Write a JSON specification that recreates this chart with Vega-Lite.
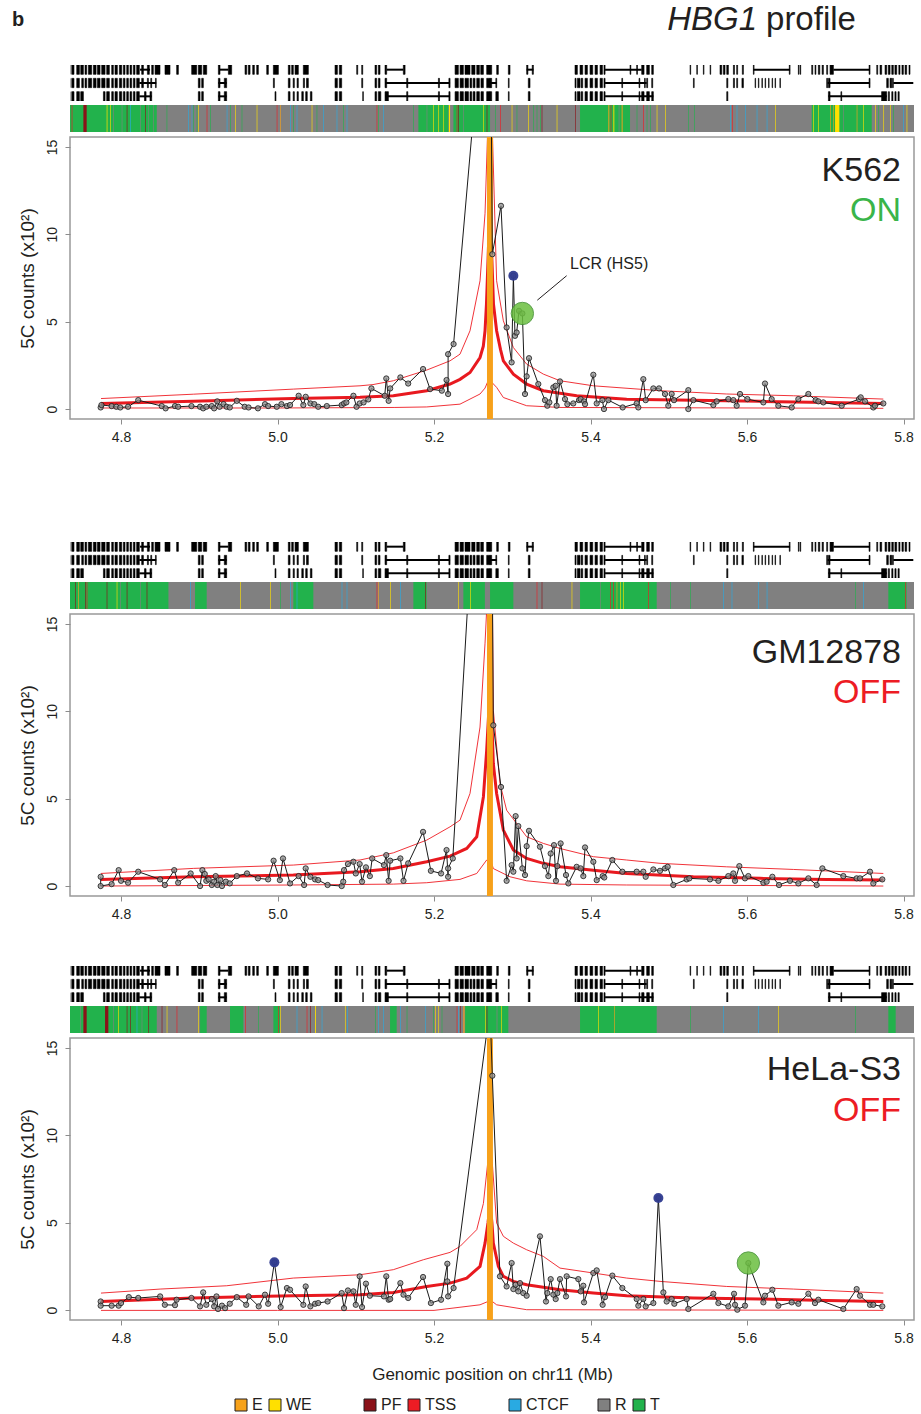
{
"$schema": "https://vega.github.io/schema/vega-lite/v6.json",
"padding": {"left": 12, "top": 0, "right": 0, "bottom": 0},
"background": "white",
"spacing": 4,
"config": {
  "font": "Liberation Sans",
  "view": {"stroke": "#999999", "strokeWidth": 1.5},
  "axis": {"labelFont": "Liberation Sans", "labelFontSize": 14, "labelColor": "#231f20", "titleFont": "Liberation Sans", "titleFontSize": 17, "titleFontWeight": "normal", "titleColor": "#231f20", "tickColor": "#8c8c8c", "tickSize": 5, "domain": false, "grid": false},
  "legend": {"layout": {"bottom": {"anchor": "middle"}}}
},
"datasets": {
"genes": [
{"r":1,"k":"x","s":4.7327,"e":4.7348},{"r":1,"k":"x","s":4.7370,"e":4.7399},{"r":1,"k":"x","s":4.7434,"e":4.7468},{"r":1,"k":"x","s":4.7485,"e":4.7519},{"r":1,"k":"x","s":4.7540,"e":4.7561},{"r":1,"k":"x","s":4.7583,"e":4.7625},{"r":1,"k":"x","s":4.7647,"e":4.7681},{"r":1,"k":"x","s":4.7698,"e":4.7732},{"r":1,"k":"x","s":4.7753,"e":4.7796},{"r":1,"k":"x","s":4.7817,"e":4.7851},{"r":1,"k":"x","s":4.7881,"e":4.7902},{"r":1,"k":"x","s":4.7923,"e":4.7953},{"r":1,"k":"x","s":4.7979,"e":4.8009},{"r":1,"k":"x","s":4.8030,"e":4.8051},{"r":1,"k":"x","s":4.8073,"e":4.8094},{"r":1,"k":"x","s":4.8115,"e":4.8136},{"r":1,"k":"x","s":4.8158,"e":4.8179},{"r":1,"k":"x","s":4.8200,"e":4.8234},{"r":1,"k":"x","s":4.8264,"e":4.8286},{"r":1,"k":"x","s":4.8337,"e":4.8362},{"r":1,"k":"x","s":4.8392,"e":4.8413},{"r":1,"k":"x","s":4.8435,"e":4.8498},{"r":1,"k":"x","s":4.8562,"e":4.8626},{"r":1,"k":"x","s":4.8711,"e":4.8733},{"r":1,"k":"x","s":4.8903,"e":4.8967},{"r":1,"k":"x","s":4.8988,"e":4.9031},{"r":1,"k":"x","s":4.9052,"e":4.9095},{"r":1,"k":"x","s":4.9244,"e":4.9265},{"r":1,"k":"x","s":4.9372,"e":4.9414},{"r":1,"k":"x","s":4.9585,"e":4.9606},{"r":1,"k":"x","s":4.9627,"e":4.9649},{"r":1,"k":"x","s":4.9683,"e":4.9704},{"r":1,"k":"x","s":4.9734,"e":4.9755},{"r":1,"k":"x","s":4.9862,"e":4.9883},{"r":1,"k":"x","s":4.9947,"e":5.0011},{"r":1,"k":"x","s":5.0138,"e":5.0160},{"r":1,"k":"x","s":5.0181,"e":5.0202},{"r":1,"k":"x","s":5.0224,"e":5.0266},{"r":1,"k":"x","s":5.0330,"e":5.0394},{"r":1,"k":"x","s":5.0735,"e":5.0765},{"r":1,"k":"x","s":5.0790,"e":5.0820},{"r":1,"k":"x","s":5.1012,"e":5.1025},{"r":1,"k":"x","s":5.1076,"e":5.1089},{"r":1,"k":"x","s":5.1246,"e":5.1267},{"r":1,"k":"x","s":5.1289,"e":5.1310},{"r":1,"k":"x","s":5.1374,"e":5.1395},{"r":1,"k":"x","s":5.1608,"e":5.1630},{"r":1,"k":"x","s":5.2269,"e":5.2311},{"r":1,"k":"x","s":5.2333,"e":5.2375},{"r":1,"k":"x","s":5.2396,"e":5.2460},{"r":1,"k":"x","s":5.2482,"e":5.2524},{"r":1,"k":"x","s":5.2546,"e":5.2580},{"r":1,"k":"x","s":5.2597,"e":5.2631},{"r":1,"k":"x","s":5.2673,"e":5.2716},
{"r":1,"k":"x","s":5.2716,"e":5.2737},{"r":1,"k":"x","s":5.2801,"e":5.2822},{"r":1,"k":"x","s":5.2950,"e":5.2971},{"r":1,"k":"x","s":5.3184,"e":5.3200},{"r":1,"k":"x","s":5.3255,"e":5.3270},{"r":1,"k":"x","s":5.3802,"e":5.3832},{"r":1,"k":"x","s":5.3866,"e":5.3900},{"r":1,"k":"x","s":5.3930,"e":5.3960},{"r":1,"k":"x","s":5.3994,"e":5.4028},{"r":1,"k":"x","s":5.4058,"e":5.4088},{"r":1,"k":"x","s":5.4122,"e":5.4152},{"r":1,"k":"x","s":5.4172,"e":5.4186},{"r":1,"k":"x","s":5.4505,"e":5.4515},{"r":1,"k":"x","s":5.4590,"e":5.4600},{"r":1,"k":"x","s":5.4654,"e":5.4684},{"r":1,"k":"x","s":5.4718,"e":5.4752},{"r":1,"k":"x","s":5.4782,"e":5.4803},{"r":1,"k":"x","s":5.5272,"e":5.5280},{"r":1,"k":"x","s":5.5358,"e":5.5366},{"r":1,"k":"x","s":5.5442,"e":5.5450},{"r":1,"k":"x","s":5.5528,"e":5.5536},{"r":1,"k":"x","s":5.5655,"e":5.5677},{"r":1,"k":"x","s":5.5698,"e":5.5719},{"r":1,"k":"x","s":5.5741,"e":5.5762},{"r":1,"k":"x","s":5.5826,"e":5.5840},{"r":1,"k":"x","s":5.5868,"e":5.5880},{"r":1,"k":"x","s":5.5940,"e":5.5954},{"r":1,"k":"x","s":5.6081,"e":5.6090},{"r":1,"k":"x","s":5.6540,"e":5.6550},{"r":1,"k":"x","s":5.6656,"e":5.6664},{"r":1,"k":"x","s":5.6678,"e":5.6686},{"r":1,"k":"x","s":5.6827,"e":5.6840},{"r":1,"k":"x","s":5.6869,"e":5.6880},{"r":1,"k":"x","s":5.6912,"e":5.6930},{"r":1,"k":"x","s":5.6960,"e":5.6976},{"r":1,"k":"x","s":5.7018,"e":5.7030},{"r":1,"k":"x","s":5.7061,"e":5.7104},{"r":1,"k":"x","s":5.7560,"e":5.7572},{"r":1,"k":"x","s":5.7658,"e":5.7670},{"r":1,"k":"x","s":5.7700,"e":5.7721},{"r":1,"k":"x","s":5.7764,"e":5.7785},{"r":1,"k":"x","s":5.7806,"e":5.7828},{"r":1,"k":"x","s":5.7850,"e":5.7870},{"r":1,"k":"x","s":5.7890,"e":5.7913},{"r":1,"k":"x","s":5.7940,"e":5.7955},{"r":1,"k":"x","s":5.7980,"e":5.7998},{"r":1,"k":"x","s":5.8020,"e":5.8040},{"r":1,"k":"x","s":5.8070,"e":5.8083},
{"r":1,"k":"l","s":4.8243,"e":4.8371},{"r":1,"k":"l","s":4.9265,"e":4.9372},{"r":1,"k":"l","s":5.1395,"e":5.1608},{"r":1,"k":"l","s":5.3184,"e":5.3270},{"r":1,"k":"l","s":5.4186,"e":5.4654},{"r":1,"k":"l","s":5.6081,"e":5.6550},{"r":1,"k":"l","s":5.7104,"e":5.7572},
{"r":2,"k":"x","s":4.7327,"e":4.7348},{"r":2,"k":"x","s":4.7370,"e":4.7399},{"r":2,"k":"x","s":4.7434,"e":4.7468},{"r":2,"k":"x","s":4.7498,"e":4.7519},{"r":2,"k":"x","s":4.7540,"e":4.7561},{"r":2,"k":"x","s":4.7583,"e":4.7625},{"r":2,"k":"x","s":4.7647,"e":4.7681},{"r":2,"k":"x","s":4.7698,"e":4.7732},{"r":2,"k":"x","s":4.7753,"e":4.7796},{"r":2,"k":"x","s":4.7817,"e":4.7851},{"r":2,"k":"x","s":4.7881,"e":4.7902},{"r":2,"k":"x","s":4.7923,"e":4.7953},{"r":2,"k":"x","s":4.7979,"e":4.8009},{"r":2,"k":"x","s":4.8030,"e":4.8051},{"r":2,"k":"x","s":4.8073,"e":4.8094},{"r":2,"k":"x","s":4.8115,"e":4.8136},{"r":2,"k":"x","s":4.8158,"e":4.8179},{"r":2,"k":"x","s":4.8200,"e":4.8234},{"r":2,"k":"x","s":4.8264,"e":4.8286},{"r":2,"k":"x","s":4.8337,"e":4.8350},{"r":2,"k":"x","s":4.8380,"e":4.8392},{"r":2,"k":"x","s":4.8440,"e":4.8450},{"r":2,"k":"x","s":4.8988,"e":4.9010},{"r":2,"k":"x","s":4.9031,"e":4.9052},{"r":2,"k":"x","s":4.9244,"e":4.9265},{"r":2,"k":"x","s":4.9320,"e":4.9350},{"r":2,"k":"x","s":4.9947,"e":4.9960},{"r":2,"k":"x","s":5.0138,"e":5.0160},{"r":2,"k":"x","s":5.0200,"e":5.0215},{"r":2,"k":"x","s":5.0250,"e":5.0266},{"r":2,"k":"x","s":5.0330,"e":5.0345},{"r":2,"k":"x","s":5.0370,"e":5.0394},{"r":2,"k":"x","s":5.0735,"e":5.0765},{"r":2,"k":"x","s":5.0790,"e":5.0820},{"r":2,"k":"x","s":5.1076,"e":5.1089},{"r":2,"k":"x","s":5.1246,"e":5.1267},{"r":2,"k":"x","s":5.1289,"e":5.1310},{"r":2,"k":"x","s":5.1374,"e":5.1395},{"r":2,"k":"x","s":5.1651,"e":5.1665},{"r":2,"k":"x","s":5.2056,"e":5.2070},{"r":2,"k":"x","s":5.2190,"e":5.2205},{"r":2,"k":"x","s":5.2269,"e":5.2311},{"r":2,"k":"x","s":5.2333,"e":5.2375},{"r":2,"k":"x","s":5.2396,"e":5.2440},{"r":2,"k":"x","s":5.2460,"e":5.2482},{"r":2,"k":"x","s":5.2500,"e":5.2524},{"r":2,"k":"x","s":5.2546,"e":5.2580},{"r":2,"k":"x","s":5.2600,"e":5.2631},{"r":2,"k":"x","s":5.2673,"e":5.2716},
{"r":2,"k":"x","s":5.2716,"e":5.2737},{"r":2,"k":"x","s":5.2790,"e":5.2801},{"r":2,"k":"x","s":5.2950,"e":5.2960},{"r":2,"k":"x","s":5.3205,"e":5.3227},{"r":2,"k":"x","s":5.3802,"e":5.3815},{"r":2,"k":"x","s":5.3832,"e":5.3866},{"r":2,"k":"x","s":5.3880,"e":5.3900},{"r":2,"k":"x","s":5.3930,"e":5.3960},{"r":2,"k":"x","s":5.3994,"e":5.4028},{"r":2,"k":"x","s":5.4058,"e":5.4088},{"r":2,"k":"x","s":5.4122,"e":5.4152},{"r":2,"k":"x","s":5.4172,"e":5.4186},{"r":2,"k":"x","s":5.4400,"e":5.4410},{"r":2,"k":"x","s":5.4620,"e":5.4630},{"r":2,"k":"x","s":5.4690,"e":5.4700},{"r":2,"k":"x","s":5.4718,"e":5.4730},{"r":2,"k":"x","s":5.4782,"e":5.4795},{"r":2,"k":"x","s":5.5315,"e":5.5325},{"r":2,"k":"x","s":5.5741,"e":5.5755},{"r":2,"k":"x","s":5.5826,"e":5.5840},{"r":2,"k":"x","s":5.5868,"e":5.5880},{"r":2,"k":"x","s":5.5935,"e":5.5954},{"r":2,"k":"x","s":5.6103,"e":5.6110},{"r":2,"k":"x","s":5.6145,"e":5.6152},{"r":2,"k":"x","s":5.6190,"e":5.6197},{"r":2,"k":"x","s":5.6231,"e":5.6238},{"r":2,"k":"x","s":5.6275,"e":5.6282},{"r":2,"k":"x","s":5.6320,"e":5.6327},{"r":2,"k":"x","s":5.6358,"e":5.6365},{"r":2,"k":"x","s":5.6420,"e":5.6427},{"r":2,"k":"x","s":5.7018,"e":5.7030},{"r":2,"k":"x","s":5.7040,"e":5.7061},{"r":2,"k":"x","s":5.7560,"e":5.7572},{"r":2,"k":"x","s":5.7785,"e":5.7806},{"r":2,"k":"x","s":5.7828,"e":5.7850},{"r":2,"k":"x","s":5.7860,"e":5.7870},
{"r":2,"k":"l","s":4.8234,"e":4.8450},{"r":2,"k":"l","s":4.9244,"e":4.9350},{"r":2,"k":"l","s":5.1374,"e":5.2205},{"r":2,"k":"l","s":5.2716,"e":5.2801},{"r":2,"k":"l","s":5.4186,"e":5.4718},{"r":2,"k":"l","s":5.7030,"e":5.7572},{"r":2,"k":"l","s":5.7870,"e":5.8125},
{"r":3,"k":"x","s":4.7327,"e":4.7348},{"r":3,"k":"x","s":4.7370,"e":4.7399},{"r":3,"k":"x","s":4.7434,"e":4.7468},{"r":3,"k":"x","s":4.7485,"e":4.7519},{"r":3,"k":"x","s":4.7775,"e":4.7796},{"r":3,"k":"x","s":4.7817,"e":4.7851},{"r":3,"k":"x","s":4.7881,"e":4.7902},{"r":3,"k":"x","s":4.7923,"e":4.7953},{"r":3,"k":"x","s":4.7979,"e":4.8009},{"r":3,"k":"x","s":4.8030,"e":4.8051},{"r":3,"k":"x","s":4.8073,"e":4.8094},{"r":3,"k":"x","s":4.8115,"e":4.8136},{"r":3,"k":"x","s":4.8158,"e":4.8179},{"r":3,"k":"x","s":4.8200,"e":4.8234},{"r":3,"k":"x","s":4.8300,"e":4.8320},{"r":3,"k":"x","s":4.8370,"e":4.8392},{"r":3,"k":"x","s":4.8988,"e":4.9010},{"r":3,"k":"x","s":4.9031,"e":4.9052},{"r":3,"k":"x","s":4.9244,"e":4.9265},{"r":3,"k":"x","s":4.9320,"e":4.9350},{"r":3,"k":"x","s":4.9968,"e":4.9980},{"r":3,"k":"x","s":5.0138,"e":5.0160},{"r":3,"k":"x","s":5.0200,"e":5.0215},{"r":3,"k":"x","s":5.0250,"e":5.0266},{"r":3,"k":"x","s":5.0310,"e":5.0330},{"r":3,"k":"x","s":5.0360,"e":5.0380},{"r":3,"k":"x","s":5.0420,"e":5.0440},{"r":3,"k":"x","s":5.0735,"e":5.0765},{"r":3,"k":"x","s":5.0790,"e":5.0820},{"r":3,"k":"x","s":5.1089,"e":5.1097},{"r":3,"k":"x","s":5.1246,"e":5.1267},{"r":3,"k":"x","s":5.1289,"e":5.1320},{"r":3,"k":"x","s":5.1374,"e":5.1417},{"r":3,"k":"x","s":5.1651,"e":5.1665},{"r":3,"k":"x","s":5.2056,"e":5.2070},{"r":3,"k":"x","s":5.2190,"e":5.2205},{"r":3,"k":"x","s":5.2269,"e":5.2311},{"r":3,"k":"x","s":5.2333,"e":5.2375},{"r":3,"k":"x","s":5.2396,"e":5.2440},{"r":3,"k":"x","s":5.2460,"e":5.2482},{"r":3,"k":"x","s":5.2500,"e":5.2524},{"r":3,"k":"x","s":5.2546,"e":5.2580},{"r":3,"k":"x","s":5.2600,"e":5.2631},{"r":3,"k":"x","s":5.2673,"e":5.2716},
{"r":3,"k":"x","s":5.2716,"e":5.2737},{"r":3,"k":"x","s":5.2790,"e":5.2822},{"r":3,"k":"x","s":5.2950,"e":5.2960},{"r":3,"k":"x","s":5.3205,"e":5.3227},{"r":3,"k":"x","s":5.3802,"e":5.3815},{"r":3,"k":"x","s":5.3832,"e":5.3866},{"r":3,"k":"x","s":5.3880,"e":5.3900},{"r":3,"k":"x","s":5.3930,"e":5.3960},{"r":3,"k":"x","s":5.3994,"e":5.4028},{"r":3,"k":"x","s":5.4058,"e":5.4088},{"r":3,"k":"x","s":5.4122,"e":5.4152},{"r":3,"k":"x","s":5.4172,"e":5.4186},{"r":3,"k":"x","s":5.4400,"e":5.4410},{"r":3,"k":"x","s":5.4620,"e":5.4630},{"r":3,"k":"x","s":5.4654,"e":5.4684},{"r":3,"k":"x","s":5.4718,"e":5.4752},{"r":3,"k":"x","s":5.4782,"e":5.4803},{"r":3,"k":"x","s":5.5741,"e":5.5755},{"r":3,"k":"x","s":5.7040,"e":5.7061},{"r":3,"k":"x","s":5.7200,"e":5.7210},{"r":3,"k":"x","s":5.7720,"e":5.7785},{"r":3,"k":"x","s":5.7806,"e":5.7820},{"r":3,"k":"x","s":5.7850,"e":5.7865},{"r":3,"k":"x","s":5.7890,"e":5.7905},{"r":3,"k":"x","s":5.7930,"e":5.7945},
{"r":3,"k":"l","s":4.8234,"e":4.8392},{"r":3,"k":"l","s":4.9244,"e":4.9350},{"r":3,"k":"l","s":5.1374,"e":5.2205},{"r":3,"k":"l","s":5.4186,"e":5.4803},{"r":3,"k":"l","s":5.7040,"e":5.7785}
],
"cb1": [
{"s":4.7348,"e":5.8134,"st":"R"},{"s":4.7327,"e":4.8457,"st":"T"},{"s":4.7519,"e":4.7561,"st":"PF"},{"s":4.7370,"e":4.7378,"st":"TSS"},{"s":4.7817,"e":4.7826,"st":"WE"},{"s":4.7860,"e":4.7868,"st":"WE"},{"s":4.7902,"e":4.7910,"st":"R"},{"s":4.8009,"e":4.8017,"st":"R"},{"s":4.8073,"e":4.8081,"st":"PF"},{"s":4.8115,"e":4.8123,"st":"CTCF"},{"s":4.8243,"e":4.8251,"st":"R"},{"s":4.8307,"e":4.8315,"st":"PF"},{"s":4.8350,"e":4.8358,"st":"R"},{"s":4.8413,"e":4.8421,"st":"R"},
{"s":4.8583,"e":4.8591,"st":"T"},{"s":4.8861,"e":4.8869,"st":"CTCF"},{"s":4.8903,"e":4.8911,"st":"CTCF"},{"s":4.8925,"e":4.8933,"st":"T"},{"s":4.8967,"e":4.8975,"st":"T"},{"s":4.8988,"e":4.8996,"st":"WE"},{"s":4.9095,"e":4.9103,"st":"TSS"},{"s":4.9138,"e":4.9146,"st":"T"},{"s":4.9351,"e":4.9359,"st":"CTCF"},{"s":4.9393,"e":4.9401,"st":"T"},{"s":4.9457,"e":4.9465,"st":"WE"},{"s":4.9542,"e":4.9550,"st":"T"},{"s":4.9734,"e":4.9742,"st":"WE"},{"s":4.9990,"e":4.9998,"st":"TSS"},{"s":5.0032,"e":5.0040,"st":"E"},{"s":5.0160,"e":5.0168,"st":"CTCF"},{"s":5.0202,"e":5.0210,"st":"T"},{"s":5.0245,"e":5.0253,"st":"CTCF"},{"s":5.0437,"e":5.0445,"st":"WE"},{"s":5.0500,"e":5.0508,"st":"T"},{"s":5.0586,"e":5.0594,"st":"CTCF"},{"s":5.0756,"e":5.0764,"st":"CTCF"},{"s":5.0841,"e":5.0849,"st":"T"},{"s":5.0884,"e":5.0892,"st":"CTCF"},{"s":5.1267,"e":5.1275,"st":"TSS"},{"s":5.1289,"e":5.1297,"st":"T"},{"s":5.1353,"e":5.1361,"st":"CTCF"},{"s":5.1736,"e":5.1744,"st":"T"},
{"s":5.1800,"e":5.2184,"st":"T"},{"s":5.1906,"e":5.1914,"st":"R"},{"s":5.1991,"e":5.1999,"st":"WE"},{"s":5.2056,"e":5.2064,"st":"WE"},{"s":5.2120,"e":5.2128,"st":"WE"},{"s":5.2190,"e":5.2205,"st":"WE"},
{"s":5.2248,"e":5.2716,"st":"T"},{"s":5.2290,"e":5.2298,"st":"TSS"},{"s":5.2311,"e":5.2319,"st":"PF"},{"s":5.2375,"e":5.2383,"st":"R"},{"s":5.2631,"e":5.2639,"st":"WE"},{"s":5.2673,"e":5.2681,"st":"PF"},
{"s":5.2780,"e":5.2788,"st":"T"},{"s":5.2844,"e":5.2852,"st":"TSS"},{"s":5.2993,"e":5.3001,"st":"WE"},{"s":5.3056,"e":5.3064,"st":"T"},{"s":5.3206,"e":5.3214,"st":"WE"},{"s":5.3270,"e":5.3278,"st":"T"},{"s":5.3312,"e":5.3320,"st":"T"},{"s":5.3355,"e":5.3363,"st":"T"},{"s":5.3376,"e":5.3384,"st":"PF"},{"s":5.3568,"e":5.3576,"st":"WE"},{"s":5.3802,"e":5.3810,"st":"PF"},
{"s":5.3866,"e":5.4505,"st":"T"},{"s":5.4228,"e":5.4240,"st":"E"},{"s":5.4258,"e":5.4266,"st":"TSS"},{"s":5.4292,"e":5.4304,"st":"WE"},{"s":5.4360,"e":5.4370,"st":"R"},{"s":5.4398,"e":5.4410,"st":"E"},
{"s":5.4590,"e":5.4598,"st":"T"},{"s":5.4675,"e":5.4683,"st":"TSS"},{"s":5.4718,"e":5.4726,"st":"T"},{"s":5.4760,"e":5.4768,"st":"T"},{"s":5.4846,"e":5.4854,"st":"WE"},{"s":5.4952,"e":5.4960,"st":"WE"},{"s":5.5251,"e":5.5259,"st":"T"},{"s":5.5323,"e":5.5331,"st":"T"},{"s":5.5783,"e":5.5791,"st":"CTCF"},{"s":5.5813,"e":5.5821,"st":"TSS"},{"s":5.5868,"e":5.5876,"st":"CTCF"},{"s":5.5975,"e":5.5983,"st":"CTCF"},{"s":5.6124,"e":5.6132,"st":"CTCF"},{"s":5.6252,"e":5.6260,"st":"CTCF"},{"s":5.6358,"e":5.6366,"st":"WE"},
{"s":5.6827,"e":5.7594,"st":"T"},{"s":5.6848,"e":5.6856,"st":"WE"},{"s":5.6912,"e":5.6920,"st":"WE"},{"s":5.7061,"e":5.7069,"st":"E"},{"s":5.7104,"e":5.7112,"st":"E"},{"s":5.7125,"e":5.7180,"st":"WE"},{"s":5.7231,"e":5.7239,"st":"R"},{"s":5.7402,"e":5.7410,"st":"E"},{"s":5.7487,"e":5.7495,"st":"WE"},
{"s":5.7636,"e":5.7644,"st":"WE"},{"s":5.7679,"e":5.7687,"st":"T"},{"s":5.7743,"e":5.7751,"st":"WE"},{"s":5.7828,"e":5.7836,"st":"WE"},{"s":5.7870,"e":5.7878,"st":"T"},{"s":5.7998,"e":5.8006,"st":"CTCF"},{"s":5.8040,"e":5.8048,"st":"WE"}
],
"cb2": [
{"s":4.7348,"e":5.8134,"st":"R"},{"s":4.7327,"e":4.8606,"st":"T"},{"s":4.7412,"e":4.7420,"st":"PF"},{"s":4.7455,"e":4.7463,"st":"E"},{"s":4.7540,"e":4.7548,"st":"PF"},{"s":4.7561,"e":4.7569,"st":"TSS"},{"s":4.7817,"e":4.7825,"st":"PF"},{"s":4.7945,"e":4.7953,"st":"WE"},{"s":4.7987,"e":4.7995,"st":"R"},{"s":4.8073,"e":4.8081,"st":"PF"},{"s":4.8243,"e":4.8251,"st":"R"},{"s":4.8328,"e":4.8336,"st":"PF"},
{"s":4.8882,"e":4.8890,"st":"CTCF"},{"s":4.8946,"e":4.9095,"st":"T"},{"s":4.9521,"e":4.9529,"st":"WE"},{"s":4.9904,"e":4.9912,"st":"WE"},{"s":5.0032,"e":5.0040,"st":"T"},{"s":5.0160,"e":5.0168,"st":"CTCF"},{"s":5.0202,"e":5.0458,"st":"T"},{"s":5.0245,"e":5.0253,"st":"CTCF"},{"s":5.0820,"e":5.0828,"st":"CTCF"},{"s":5.0884,"e":5.0892,"st":"CTCF"},{"s":5.1267,"e":5.1275,"st":"TSS"},{"s":5.1289,"e":5.1297,"st":"E"},{"s":5.1438,"e":5.1446,"st":"WE"},{"s":5.1566,"e":5.1574,"st":"CTCF"},{"s":5.1736,"e":5.1906,"st":"T"},{"s":5.1885,"e":5.1893,"st":"PF"},{"s":5.2311,"e":5.2319,"st":"WE"},
{"s":5.2375,"e":5.2650,"st":"T"},{"s":5.2460,"e":5.2468,"st":"WE"},{"s":5.2716,"e":5.3014,"st":"T"},
{"s":5.3312,"e":5.3320,"st":"TSS"},{"s":5.3376,"e":5.3384,"st":"PF"},{"s":5.3759,"e":5.3767,"st":"WE"},
{"s":5.3866,"e":5.4846,"st":"T"},{"s":5.4121,"e":5.4129,"st":"R"},{"s":5.4249,"e":5.4257,"st":"TSS"},{"s":5.4292,"e":5.4300,"st":"TSS"},{"s":5.4334,"e":5.4342,"st":"E"},{"s":5.4377,"e":5.4385,"st":"WE"},{"s":5.4420,"e":5.4428,"st":"WE"},{"s":5.4739,"e":5.4747,"st":"TSS"},
{"s":5.5016,"e":5.5024,"st":"T"},{"s":5.5272,"e":5.5280,"st":"T"},{"s":5.5698,"e":5.5706,"st":"CTCF"},{"s":5.5804,"e":5.5812,"st":"CTCF"},{"s":5.6145,"e":5.6153,"st":"CTCF"},{"s":5.6252,"e":5.6260,"st":"CTCF"},{"s":5.7381,"e":5.7389,"st":"T"},{"s":5.7487,"e":5.7495,"st":"CTCF"},{"s":5.7806,"e":5.8040,"st":"T"},{"s":5.8019,"e":5.8027,"st":"TSS"}
],
"cb3": [
{"s":4.7348,"e":5.8134,"st":"R"},{"s":4.7327,"e":4.8457,"st":"T"},{"s":4.7476,"e":4.7484,"st":"R"},{"s":4.7519,"e":4.7561,"st":"PF"},{"s":4.7796,"e":4.7838,"st":"PF"},{"s":4.7902,"e":4.7910,"st":"R"},{"s":4.7966,"e":4.7974,"st":"WE"},{"s":4.8073,"e":4.8081,"st":"PF"},{"s":4.8115,"e":4.8123,"st":"PF"},{"s":4.8200,"e":4.8208,"st":"CTCF"},{"s":4.8264,"e":4.8272,"st":"R"},{"s":4.8350,"e":4.8358,"st":"PF"},
{"s":4.8520,"e":4.8528,"st":"PF"},{"s":4.8584,"e":4.8592,"st":"WE"},{"s":4.8711,"e":4.8719,"st":"TSS"},{"s":4.8988,"e":4.8996,"st":"WE"},{"s":4.9010,"e":4.9095,"st":"T"},{"s":4.9393,"e":4.9564,"st":"T"},{"s":4.9585,"e":4.9593,"st":"TSS"},{"s":4.9755,"e":4.9763,"st":"T"},{"s":4.9947,"e":5.0032,"st":"T"},{"s":5.0011,"e":5.0019,"st":"TSS"},{"s":5.0032,"e":5.0040,"st":"WE"},{"s":5.0245,"e":5.0253,"st":"CTCF"},{"s":5.0373,"e":5.0381,"st":"TSS"},{"s":5.0415,"e":5.0423,"st":"PF"},{"s":5.0479,"e":5.0490,"st":"WE"},{"s":5.0565,"e":5.0573,"st":"CTCF"},{"s":5.0862,"e":5.0870,"st":"WE"},{"s":5.0892,"e":5.0900,"st":"CTCF"},{"s":5.1246,"e":5.1254,"st":"T"},{"s":5.1289,"e":5.1297,"st":"CTCF"},{"s":5.1353,"e":5.1361,"st":"CTCF"},{"s":5.1438,"e":5.1523,"st":"T"},{"s":5.1566,"e":5.1574,"st":"CTCF"},{"s":5.1651,"e":5.1659,"st":"T"},{"s":5.1885,"e":5.1893,"st":"CTCF"},{"s":5.1991,"e":5.1999,"st":"T"},{"s":5.2013,"e":5.2021,"st":"WE"},{"s":5.2056,"e":5.2064,"st":"WE"},{"s":5.2098,"e":5.2106,"st":"T"},{"s":5.2290,"e":5.2298,"st":"TSS"},{"s":5.2311,"e":5.2319,"st":"CTCF"},{"s":5.2333,"e":5.2341,"st":"PF"},{"s":5.2375,"e":5.2390,"st":"E"},
{"s":5.2397,"e":5.2950,"st":"T"},{"s":5.2652,"e":5.2660,"st":"WE"},{"s":5.2673,"e":5.2681,"st":"PF"},{"s":5.2800,"e":5.2810,"st":"R"},{"s":5.2860,"e":5.2868,"st":"WE"},
{"s":5.3866,"e":5.4846,"st":"T"},{"s":5.4100,"e":5.4108,"st":"WE"},{"s":5.4300,"e":5.4308,"st":"E"},
{"s":5.5272,"e":5.5280,"st":"T"},{"s":5.5698,"e":5.5706,"st":"CTCF"},{"s":5.6145,"e":5.6153,"st":"CTCF"},{"s":5.6400,"e":5.6408,"st":"WE"},{"s":5.7381,"e":5.7389,"st":"T"},{"s":5.7806,"e":5.7900,"st":"T"}
],
"r1": [
{"s":"exp","x":4.7744,"y":0.32},{"s":"exp","x":4.8924,"y":0.44},{"s":"exp","x":5.0202,"y":0.61},{"s":"exp","x":5.1054,"y":0.67},{"s":"exp","x":5.148,"y":0.76},{"s":"exp","x":5.1907,"y":1.05},{"s":"exp","x":5.2205,"y":1.43},{"s":"exp","x":5.2332,"y":1.7},{"s":"exp","x":5.246,"y":2.09},{"s":"exp","x":5.2588,"y":2.95},{"s":"exp","x":5.263,"y":3.6},{"s":"exp","x":5.2652,"y":4.48},{"s":"exp","x":5.267,"y":6.0},{"s":"exp","x":5.269,"y":8.5},{"s":"exp","x":5.2716,"y":12},{"s":"exp","x":5.274,"y":8.5},{"s":"exp","x":5.276,"y":6.0},{"s":"exp","x":5.28,"y":4.48},{"s":"exp","x":5.285,"y":3.4},{"s":"exp","x":5.2886,"y":2.76},{"s":"exp","x":5.3014,"y":2.0},{"s":"exp","x":5.3184,"y":1.43},{"s":"exp","x":5.3397,"y":1.05},{"s":"exp","x":5.3823,"y":0.76},{"s":"exp","x":5.4462,"y":0.56},{"s":"exp","x":5.5314,"y":0.51},{"s":"exp","x":5.6166,"y":0.44},{"s":"exp","x":5.7018,"y":0.38},{"s":"exp","x":5.7742,"y":0.32},
{"s":"hi","x":4.7744,"y":0.6},{"s":"hi","x":4.8924,"y":0.85},{"s":"hi","x":5.0202,"y":1.14},{"s":"hi","x":5.1054,"y":1.33},{"s":"hi","x":5.122,"y":1.4},{"s":"hi","x":5.148,"y":1.62},{"s":"hi","x":5.1907,"y":2.23},{"s":"hi","x":5.2205,"y":2.76},{"s":"hi","x":5.2332,"y":3.14},{"s":"hi","x":5.246,"y":4.48},{"s":"hi","x":5.2588,"y":7.34},{"s":"hi","x":5.2652,"y":11.2},{"s":"hi","x":5.2686,"y":16},{"s":"hi","x":5.2716,"y":20},{"s":"hi","x":5.2745,"y":16},{"s":"hi","x":5.28,"y":7.34},{"s":"hi","x":5.2886,"y":5.05},{"s":"hi","x":5.3014,"y":3.52},{"s":"hi","x":5.3184,"y":2.57},{"s":"hi","x":5.3397,"y":2.0},{"s":"hi","x":5.361,"y":1.62},{"s":"hi","x":5.4036,"y":1.33},{"s":"hi","x":5.4888,"y":1.05},{"s":"hi","x":5.574,"y":0.86},{"s":"hi","x":5.6592,"y":0.76},{"s":"hi","x":5.7742,"y":0.57},
{"s":"lo","x":4.7744,"y":0.06},{"s":"lo","x":5.0,"y":0.06},{"s":"lo","x":5.15,"y":0.09},{"s":"lo","x":5.1907,"y":0.12},{"s":"lo","x":5.2332,"y":0.28},{"s":"lo","x":5.2588,"y":0.86},{"s":"lo","x":5.2652,"y":1.2},{"s":"lo","x":5.269,"y":1.6},{"s":"lo","x":5.2716,"y":1.7},{"s":"lo","x":5.2745,"y":1.5},{"s":"lo","x":5.28,"y":1.24},{"s":"lo","x":5.2886,"y":0.66},{"s":"lo","x":5.3184,"y":0.19},{"s":"lo","x":5.361,"y":0.09},{"s":"lo","x":5.7742,"y":0.04}
],
"r2": [
{"s":"exp","x":4.7744,"y":0.38},{"s":"exp","x":4.8924,"y":0.53},{"s":"exp","x":5.0202,"y":0.63},{"s":"exp","x":5.1054,"y":0.82},{"s":"exp","x":5.148,"y":1.01},{"s":"exp","x":5.1907,"y":1.39},{"s":"exp","x":5.2205,"y":1.71},{"s":"exp","x":5.2418,"y":2.15},{"s":"exp","x":5.2546,"y":2.82},{"s":"exp","x":5.2631,"y":5.1},{"s":"exp","x":5.2673,"y":7.77},{"s":"exp","x":5.27,"y":10},{"s":"exp","x":5.2716,"y":12},{"s":"exp","x":5.2735,"y":10},{"s":"exp","x":5.2758,"y":7.0},{"s":"exp","x":5.28,"y":5.3},{"s":"exp","x":5.2886,"y":3.2},{"s":"exp","x":5.3014,"y":2.06},{"s":"exp","x":5.3184,"y":1.58},{"s":"exp","x":5.3397,"y":1.3},{"s":"exp","x":5.361,"y":1.1},{"s":"exp","x":5.4036,"y":0.91},{"s":"exp","x":5.4462,"y":0.72},{"s":"exp","x":5.5314,"y":0.53},{"s":"exp","x":5.6166,"y":0.44},{"s":"exp","x":5.7018,"y":0.38},{"s":"exp","x":5.7742,"y":0.34},
{"s":"hi","x":4.7744,"y":0.72},{"s":"hi","x":4.8924,"y":1.01},{"s":"hi","x":5.0202,"y":1.2},{"s":"hi","x":5.1054,"y":1.49},{"s":"hi","x":5.148,"y":1.9},{"s":"hi","x":5.1907,"y":2.63},{"s":"hi","x":5.2205,"y":3.39},{"s":"hi","x":5.2332,"y":3.77},{"s":"hi","x":5.246,"y":5.3},{"s":"hi","x":5.2588,"y":9.1},{"s":"hi","x":5.2652,"y":13.9},{"s":"hi","x":5.2686,"y":17},{"s":"hi","x":5.2716,"y":20},{"s":"hi","x":5.2745,"y":17},{"s":"hi","x":5.2758,"y":10.06},{"s":"hi","x":5.2843,"y":5.87},{"s":"hi","x":5.2928,"y":4.34},{"s":"hi","x":5.3056,"y":3.58},{"s":"hi","x":5.3184,"y":2.82},{"s":"hi","x":5.3397,"y":2.44},{"s":"hi","x":5.361,"y":2.15},{"s":"hi","x":5.4036,"y":1.68},{"s":"hi","x":5.4462,"y":1.49},{"s":"hi","x":5.4888,"y":1.3},{"s":"hi","x":5.574,"y":1.1},{"s":"hi","x":5.6592,"y":0.95},{"s":"hi","x":5.7742,"y":0.72},
{"s":"lo","x":4.7744,"y":0.0},{"s":"lo","x":5.0202,"y":0.06},{"s":"lo","x":5.148,"y":0.11},{"s":"lo","x":5.1907,"y":0.19},{"s":"lo","x":5.2332,"y":0.38},{"s":"lo","x":5.2546,"y":0.72},{"s":"lo","x":5.2673,"y":1.49},{"s":"lo","x":5.2716,"y":1.6},{"s":"lo","x":5.2758,"y":1.0},{"s":"lo","x":5.2971,"y":0.53},{"s":"lo","x":5.3184,"y":0.3},{"s":"lo","x":5.361,"y":0.11},{"s":"lo","x":5.4462,"y":0.06},{"s":"lo","x":5.7742,"y":0.0}
],
"r3": [
{"s":"exp","x":4.7744,"y":0.49},{"s":"exp","x":4.8924,"y":0.69},{"s":"exp","x":5.0202,"y":0.82},{"s":"exp","x":5.1054,"y":0.88},{"s":"exp","x":5.148,"y":1.01},{"s":"exp","x":5.1907,"y":1.35},{"s":"exp","x":5.2205,"y":1.54},{"s":"exp","x":5.2418,"y":1.83},{"s":"exp","x":5.2588,"y":2.5},{"s":"exp","x":5.2652,"y":3.83},{"s":"exp","x":5.269,"y":5.0},{"s":"exp","x":5.2716,"y":6.0},{"s":"exp","x":5.274,"y":5.0},{"s":"exp","x":5.2758,"y":3.83},{"s":"exp","x":5.2822,"y":2.5},{"s":"exp","x":5.2886,"y":1.93},{"s":"exp","x":5.3014,"y":1.64},{"s":"exp","x":5.3184,"y":1.45},{"s":"exp","x":5.361,"y":1.16},{"s":"exp","x":5.4036,"y":0.97},{"s":"exp","x":5.4462,"y":0.82},{"s":"exp","x":5.5314,"y":0.69},{"s":"exp","x":5.6166,"y":0.63},{"s":"exp","x":5.7018,"y":0.55},{"s":"exp","x":5.7742,"y":0.49},
{"s":"hi","x":4.7744,"y":0.97},{"s":"hi","x":4.85,"y":1.2},{"s":"hi","x":4.935,"y":1.39},{"s":"hi","x":5.0202,"y":1.83},{"s":"hi","x":5.1054,"y":2.02},{"s":"hi","x":5.148,"y":2.31},{"s":"hi","x":5.1864,"y":2.88},{"s":"hi","x":5.2205,"y":3.3},{"s":"hi","x":5.2332,"y":3.64},{"s":"hi","x":5.2546,"y":4.6},{"s":"hi","x":5.2631,"y":6.1},{"s":"hi","x":5.2686,"y":8.41},{"s":"hi","x":5.2716,"y":10},{"s":"hi","x":5.2745,"y":8.4},{"s":"hi","x":5.28,"y":4.98},{"s":"hi","x":5.2886,"y":4.22},{"s":"hi","x":5.3014,"y":3.83},{"s":"hi","x":5.3184,"y":3.45},{"s":"hi","x":5.3397,"y":3.07},{"s":"hi","x":5.361,"y":2.4},{"s":"hi","x":5.4036,"y":2.12},{"s":"hi","x":5.4462,"y":1.83},{"s":"hi","x":5.4888,"y":1.64},{"s":"hi","x":5.574,"y":1.35},{"s":"hi","x":5.6592,"y":1.2},{"s":"hi","x":5.7742,"y":0.97},
{"s":"lo","x":4.7744,"y":-0.02},{"s":"lo","x":5.0,"y":-0.02},{"s":"lo","x":5.2,"y":-0.02},{"s":"lo","x":5.2588,"y":0.3},{"s":"lo","x":5.269,"y":0.49},{"s":"lo","x":5.2716,"y":0.55},{"s":"lo","x":5.2745,"y":0.49},{"s":"lo","x":5.28,"y":0.3},{"s":"lo","x":5.3184,"y":0.02},{"s":"lo","x":5.7742,"y":-0.02}
],
"k1": [
{"i":1,"x":4.774,"y":0.09},{"i":2,"x":4.775,"y":0.23},{"i":3,"x":4.788,"y":0.17},{"i":4,"x":4.794,"y":0.13},{"i":5,"x":4.799,"y":0.09},{"i":6,"x":4.809,"y":0.13},{"i":7,"x":4.822,"y":0.51},{"i":8,"x":4.852,"y":0.17},{"i":9,"x":4.857,"y":0.04},{"i":10,"x":4.869,"y":0.17},{"i":11,"x":4.873,"y":0.13},{"i":12,"x":4.890,"y":0.17},{"i":13,"x":4.901,"y":0.13},{"i":14,"x":4.905,"y":0.04},{"i":15,"x":4.909,"y":0.13},{"i":16,"x":4.916,"y":0.17},{"i":17,"x":4.919,"y":0.04},{"i":18,"x":4.923,"y":0.44},{"i":19,"x":4.926,"y":0.13},{"i":20,"x":4.931,"y":0.28},{"i":21,"x":4.935,"y":0.13},{"i":22,"x":4.939,"y":0.09},{"i":23,"x":4.948,"y":0.47},{"i":24,"x":4.958,"y":0.13},{"i":25,"x":4.963,"y":0.09},{"i":26,"x":4.975,"y":0.04},{"i":27,"x":4.984,"y":0.28},{"i":28,"x":4.988,"y":0.17},{"i":29,"x":4.999,"y":0.13},{"i":30,"x":5.005,"y":0.28},{"i":31,"x":5.012,"y":0.17},{"i":32,"x":5.016,"y":0.23},{"i":33,"x":5.027,"y":0.76},{"i":34,"x":5.033,"y":0.23},{"i":35,"x":5.036,"y":0.70},{"i":36,"x":5.042,"y":0.32},{"i":37,"x":5.047,"y":0.28},{"i":38,"x":5.052,"y":0.13},{"i":39,"x":5.063,"y":0.17},{"i":40,"x":5.082,"y":0.23},{"i":41,"x":5.085,"y":0.32},{"i":42,"x":5.088,"y":0.38},{"i":43,"x":5.097,"y":0.76},{"i":44,"x":5.101,"y":0.13},{"i":45,"x":5.105,"y":0.32},{"i":46,"x":5.110,"y":0.38},{"i":47,"x":5.116,"y":0.55},{"i":48,"x":5.120,"y":1.18},{"i":49,"x":5.137,"y":0.76},{"i":50,"x":5.139,"y":1.75},{"i":51,"x":5.142,"y":0.47},{"i":52,"x":5.144,"y":1.18},{"i":53,"x":5.157,"y":1.81},{"i":54,"x":5.167,"y":1.46},{"i":55,"x":5.186,"y":2.29},{"i":56,"x":5.195,"y":1.14},{"i":57,"x":5.210,"y":1.05},{"i":58,"x":5.216,"y":1.66},{"i":59,"x":5.218,"y":0.86},{"i":60,"x":5.218,"y":3.14},{"i":61,"x":5.225,"y":3.72},{"i":62,"x":5.2715,"y":27.7},{"i":63,"x":5.2745,"y":8.86},{"i":64,"x":5.2856,"y":11.63},{"i":65,"x":5.2928,"y":4.67},{"i":66,"x":5.2992,"y":2.67},{"i":67,"x":5.3014,"y":7.63},{"i":68,"x":5.3035,"y":4.19},{"i":69,"x":5.3056,"y":4.38},{"i":70,"x":5.3086,"y":5.62},{"i":71,"x":5.3129,"y":5.47},{"i":72,"x":5.3163,"y":0.86},{"i":73,"x":5.3184,"y":1.87},{"i":74,"x":5.3214,"y":2.91},{"i":75,"x":5.3333,"y":1.43},{"i":76,"x":5.3418,"y":0.51},{"i":77,"x":5.3448,"y":0.19},{"i":78,"x":5.3474,"y":0.38},{"i":79,"x":5.3525,"y":1.24},{"i":80,"x":5.3555,"y":1.33},{"i":81,"x":5.3567,"y":0.19},{"i":82,"x":5.3610,"y":1.58},{"i":83,"x":5.3674,"y":0.57},{"i":84,"x":5.3704,"y":0.28},{"i":85,"x":5.3780,"y":0.32},{"i":86,"x":5.3853,"y":0.51},{"i":87,"x":5.3874,"y":0.57},{"i":88,"x":5.3917,"y":0.44},{"i":89,"x":5.3930,"y":0.28},{"i":90,"x":5.4036,"y":1.96},{"i":91,"x":5.4079,"y":0.32},{"i":92,"x":5.4151,"y":0.51},{"i":93,"x":5.4172,"y":0.00},{"i":94,"x":5.4228,"y":0.51},{"i":95,"x":5.4411,"y":0.09},{"i":96,"x":5.4590,"y":0.32},{"i":97,"x":5.4611,"y":0.09},{"i":98,"x":5.4675,"y":1.71},{"i":99,"x":5.4705,"y":0.51},{"i":100,"x":5.4803,"y":1.18},{"i":101,"x":5.4875,"y":1.18},{"i":102,"x":5.4952,"y":0.86},{"i":103,"x":5.4994,"y":0.19},{"i":104,"x":5.5037,"y":0.86},{"i":105,"x":5.5067,"y":0.51},{"i":106,"x":5.5250,"y":1.08},{"i":107,"x":5.5250,"y":0.00},{"i":108,"x":5.5314,"y":0.51},{"i":109,"x":5.5570,"y":0.23},{"i":110,"x":5.5612,"y":0.44},{"i":111,"x":5.5761,"y":0.57},{"i":112,"x":5.5825,"y":0.51},{"i":113,"x":5.5868,"y":0.19},{"i":114,"x":5.5910,"y":0.86},{"i":115,"x":5.6004,"y":0.57},{"i":116,"x":5.6209,"y":0.38},{"i":117,"x":5.6230,"y":1.46},{"i":118,"x":5.6315,"y":0.57},{"i":119,"x":5.6400,"y":0.19},{"i":120,"x":5.6571,"y":0.09},{"i":121,"x":5.6656,"y":0.57},{"i":122,"x":5.6784,"y":0.86},{"i":123,"x":5.6877,"y":0.51},{"i":124,"x":5.6912,"y":0.44},{"i":125,"x":5.6975,"y":0.38},{"i":126,"x":5.7210,"y":0.19},{"i":127,"x":5.7431,"y":0.57},{"i":128,"x":5.7453,"y":0.67},{"i":129,"x":5.7508,"y":0.44},{"i":130,"x":5.7614,"y":0.09},{"i":131,"x":5.7636,"y":0.19},{"i":132,"x":5.7742,"y":0.32}
],
"k2": [
{"i":1,"x":4.774,"y":0.53},{"i":2,"x":4.774,"y":0.0},{"i":3,"x":4.788,"y":0.11},{"i":4,"x":4.797,"y":0.91},{"i":5,"x":4.800,"y":0.30},{"i":6,"x":4.809,"y":0.19},{"i":7,"x":4.822,"y":0.82},{"i":8,"x":4.850,"y":0.38},{"i":9,"x":4.856,"y":0.06},{"i":10,"x":4.868,"y":0.91},{"i":11,"x":4.873,"y":0.19},{"i":12,"x":4.889,"y":0.72},{"i":13,"x":4.901,"y":0.0},{"i":14,"x":4.904,"y":0.91},{"i":15,"x":4.907,"y":0.69},{"i":16,"x":4.909,"y":0.30},{"i":17,"x":4.912,"y":0.38},{"i":18,"x":4.916,"y":0.06},{"i":19,"x":4.919,"y":0.25},{"i":20,"x":4.921,"y":0.57},{"i":21,"x":4.923,"y":0.06},{"i":22,"x":4.927,"y":0.34},{"i":23,"x":4.929,"y":0.0},{"i":24,"x":4.934,"y":0.25},{"i":25,"x":4.939,"y":0.15},{"i":26,"x":4.948,"y":0.57},{"i":27,"x":4.961,"y":0.72},{"i":28,"x":4.975,"y":0.44},{"i":29,"x":4.988,"y":0.38},{"i":30,"x":4.995,"y":1.45},{"i":31,"x":5.003,"y":0.34},{"i":32,"x":5.007,"y":1.58},{"i":33,"x":5.016,"y":0.15},{"i":34,"x":5.027,"y":0.57},{"i":35,"x":5.034,"y":0.06},{"i":36,"x":5.036,"y":1.01},{"i":37,"x":5.042,"y":0.53},{"i":38,"x":5.048,"y":0.38},{"i":39,"x":5.052,"y":0.34},{"i":40,"x":5.064,"y":0.06},{"i":41,"x":5.082,"y":0.0},{"i":42,"x":5.084,"y":0.25},{"i":43,"x":5.085,"y":0.91},{"i":44,"x":5.090,"y":1.26},{"i":45,"x":5.097,"y":1.39},{"i":46,"x":5.100,"y":0.72},{"i":47,"x":5.105,"y":1.26},{"i":48,"x":5.108,"y":0.25},{"i":49,"x":5.113,"y":1.07},{"i":50,"x":5.118,"y":0.57},{"i":51,"x":5.121,"y":1.58},{"i":52,"x":5.136,"y":1.20},{"i":53,"x":5.139,"y":1.77},{"i":54,"x":5.142,"y":0.30},{"i":55,"x":5.144,"y":1.45},{"i":56,"x":5.157,"y":1.58},{"i":57,"x":5.161,"y":0.30},{"i":58,"x":5.167,"y":1.30},{"i":59,"x":5.186,"y":3.10},{"i":60,"x":5.196,"y":0.87},{"i":61,"x":5.209,"y":0.72},{"i":62,"x":5.216,"y":2.06},{"i":63,"x":5.218,"y":0.53},{"i":64,"x":5.218,"y":1.01},{"i":65,"x":5.224,"y":1.58},{"i":66,"x":5.2715,"y":37.8},{"i":67,"x":5.2758,"y":9.20},{"i":68,"x":5.2856,"y":5.67},{"i":69,"x":5.2928,"y":0.30},{"i":70,"x":5.2992,"y":1.20},{"i":71,"x":5.3014,"y":0.82},{"i":72,"x":5.3043,"y":4.00},{"i":73,"x":5.3056,"y":1.58},{"i":74,"x":5.3077,"y":3.43},{"i":75,"x":5.3129,"y":1.01},{"i":76,"x":5.3163,"y":0.63},{"i":77,"x":5.3184,"y":2.28},{"i":78,"x":5.3214,"y":3.16},{"i":79,"x":5.3354,"y":2.25},{"i":80,"x":5.3418,"y":1.14},{"i":81,"x":5.3461,"y":0.57},{"i":82,"x":5.3491,"y":1.86},{"i":83,"x":5.3533,"y":2.34},{"i":84,"x":5.3559,"y":0.30},{"i":85,"x":5.3576,"y":1.14},{"i":86,"x":5.3618,"y":2.44},{"i":87,"x":5.3687,"y":0.63},{"i":88,"x":5.3717,"y":0.15},{"i":89,"x":5.3823,"y":1.10},{"i":90,"x":5.3874,"y":1.01},{"i":91,"x":5.3908,"y":0.57},{"i":92,"x":5.3930,"y":2.21},{"i":93,"x":5.4036,"y":1.39},{"i":94,"x":5.4079,"y":0.34},{"i":95,"x":5.4155,"y":0.57},{"i":96,"x":5.4176,"y":0.49},{"i":97,"x":5.4279,"y":1.49},{"i":98,"x":5.4407,"y":0.82},{"i":99,"x":5.4590,"y":0.82},{"i":100,"x":5.4675,"y":0.82},{"i":101,"x":5.4705,"y":0.53},{"i":102,"x":5.4803,"y":0.95},{"i":103,"x":5.4888,"y":0.87},{"i":104,"x":5.4952,"y":1.01},{"i":105,"x":5.4986,"y":1.10},{"i":106,"x":5.5058,"y":0.06},{"i":107,"x":5.5229,"y":0.38},{"i":108,"x":5.5263,"y":0.44},{"i":109,"x":5.5527,"y":0.38},{"i":110,"x":5.5634,"y":0.30},{"i":111,"x":5.5761,"y":0.57},{"i":112,"x":5.5825,"y":0.72},{"i":113,"x":5.5847,"y":0.30},{"i":114,"x":5.5902,"y":1.14},{"i":115,"x":5.5974,"y":0.44},{"i":116,"x":5.6017,"y":0.57},{"i":117,"x":5.6209,"y":0.19},{"i":118,"x":5.6251,"y":0.25},{"i":119,"x":5.6324,"y":0.53},{"i":120,"x":5.6409,"y":0.06},{"i":121,"x":5.6549,"y":0.30},{"i":122,"x":5.6656,"y":0.15},{"i":123,"x":5.6784,"y":0.44},{"i":124,"x":5.6890,"y":0.06},{"i":125,"x":5.6963,"y":1.01},{"i":126,"x":5.7231,"y":0.57},{"i":127,"x":5.7401,"y":0.44},{"i":128,"x":5.7444,"y":0.44},{"i":129,"x":5.7572,"y":0.82},{"i":130,"x":5.7614,"y":0.15},{"i":131,"x":5.7729,"y":0.38}
],
"k3": [
{"i":1,"x":4.774,"y":0.49},{"i":2,"x":4.774,"y":0.25},{"i":3,"x":4.788,"y":0.25},{"i":4,"x":4.797,"y":0.25},{"i":5,"x":4.800,"y":0.40},{"i":6,"x":4.810,"y":0.74},{"i":7,"x":4.822,"y":0.69},{"i":8,"x":4.850,"y":0.78},{"i":9,"x":4.856,"y":0.30},{"i":10,"x":4.869,"y":0.28},{"i":11,"x":4.871,"y":0.59},{"i":12,"x":4.890,"y":0.69},{"i":13,"x":4.901,"y":0.21},{"i":14,"x":4.905,"y":1.01},{"i":15,"x":4.909,"y":0.30},{"i":16,"x":4.916,"y":0.63},{"i":17,"x":4.919,"y":0.21},{"i":18,"x":4.922,"y":0.78},{"i":19,"x":4.924,"y":0.06},{"i":20,"x":4.929,"y":0.25},{"i":21,"x":4.933,"y":0.11},{"i":22,"x":4.939,"y":0.36},{"i":23,"x":4.948,"y":0.74},{"i":24,"x":4.960,"y":0.30},{"i":25,"x":4.963,"y":0.78},{"i":26,"x":4.976,"y":0.21},{"i":27,"x":4.984,"y":0.88},{"i":28,"x":4.988,"y":0.36},{"i":29,"x":4.996,"y":2.73},{"i":30,"x":5.004,"y":0.17},{"i":31,"x":5.012,"y":1.26},{"i":32,"x":5.016,"y":1.16},{"i":33,"x":5.033,"y":0.30},{"i":34,"x":5.036,"y":1.35},{"i":35,"x":5.042,"y":0.21},{"i":36,"x":5.048,"y":0.36},{"i":37,"x":5.052,"y":0.40},{"i":38,"x":5.064,"y":0.49},{"i":39,"x":5.082,"y":0.97},{"i":40,"x":5.085,"y":0.11},{"i":41,"x":5.090,"y":1.12},{"i":42,"x":5.097,"y":1.07},{"i":43,"x":5.100,"y":0.30},{"i":44,"x":5.105,"y":1.93},{"i":45,"x":5.108,"y":0.17},{"i":46,"x":5.113,"y":1.51},{"i":47,"x":5.118,"y":0.82},{"i":48,"x":5.136,"y":0.78},{"i":49,"x":5.139,"y":1.93},{"i":50,"x":5.142,"y":0.59},{"i":51,"x":5.144,"y":0.63},{"i":52,"x":5.157,"y":1.54},{"i":53,"x":5.161,"y":0.88},{"i":54,"x":5.167,"y":0.69},{"i":55,"x":5.186,"y":1.89},{"i":56,"x":5.196,"y":0.40},{"i":57,"x":5.209,"y":0.59},{"i":58,"x":5.217,"y":2.65},{"i":59,"x":5.217,"y":1.64},{"i":60,"x":5.218,"y":0.78},{"i":61,"x":5.225,"y":1.26},{"i":62,"x":5.2715,"y":17.3},{"i":63,"x":5.2745,"y":13.41},{"i":64,"x":5.2843,"y":1.93},{"i":65,"x":5.2928,"y":1.35},{"i":66,"x":5.2992,"y":2.69},{"i":67,"x":5.3014,"y":1.20},{"i":68,"x":5.3043,"y":1.45},{"i":69,"x":5.3077,"y":1.07},{"i":70,"x":5.3099,"y":1.54},{"i":71,"x":5.3141,"y":0.97},{"i":72,"x":5.3184,"y":0.82},{"i":73,"x":5.3354,"y":4.22},{"i":74,"x":5.3431,"y":0.49},{"i":75,"x":5.3448,"y":0.97},{"i":76,"x":5.3491,"y":1.77},{"i":77,"x":5.3525,"y":0.88},{"i":78,"x":5.3555,"y":0.63},{"i":79,"x":5.3576,"y":0.97},{"i":80,"x":5.3610,"y":1.77},{"i":81,"x":5.3687,"y":0.78},{"i":82,"x":5.3695,"y":1.93},{"i":83,"x":5.3844,"y":1.77},{"i":84,"x":5.3874,"y":1.07},{"i":85,"x":5.3908,"y":1.39},{"i":86,"x":5.3917,"y":0.44},{"i":87,"x":5.4036,"y":2.12},{"i":88,"x":5.4079,"y":2.27},{"i":89,"x":5.4155,"y":0.30},{"i":90,"x":5.4185,"y":0.74},{"i":91,"x":5.4279,"y":1.97},{"i":92,"x":5.4407,"y":1.26},{"i":93,"x":5.4590,"y":0.63},{"i":94,"x":5.4611,"y":0.25},{"i":95,"x":5.4675,"y":0.63},{"i":96,"x":5.4705,"y":0.21},{"i":97,"x":5.4803,"y":0.40},{"i":98,"x":5.4867,"y":6.41},{"i":99,"x":5.4931,"y":1.01},{"i":100,"x":5.4973,"y":0.49},{"i":101,"x":5.5037,"y":0.63},{"i":102,"x":5.5071,"y":0.36},{"i":103,"x":5.5229,"y":0.63},{"i":104,"x":5.5250,"y":0.06},{"i":105,"x":5.5570,"y":0.93},{"i":106,"x":5.5634,"y":0.40},{"i":107,"x":5.5761,"y":0.21},{"i":108,"x":5.5834,"y":0.93},{"i":109,"x":5.5847,"y":0.30},{"i":110,"x":5.5876,"y":0.02},{"i":111,"x":5.5974,"y":0.25},{"i":112,"x":5.6017,"y":2.69},{"i":113,"x":5.6209,"y":0.44},{"i":114,"x":5.6230,"y":0.82},{"i":115,"x":5.6324,"y":1.16},{"i":116,"x":5.6400,"y":0.25},{"i":117,"x":5.6571,"y":0.44},{"i":118,"x":5.6656,"y":0.36},{"i":119,"x":5.6784,"y":0.93},{"i":120,"x":5.6869,"y":0.40},{"i":121,"x":5.6912,"y":0.59},{"i":122,"x":5.7231,"y":0.06},{"i":123,"x":5.7401,"y":1.20},{"i":124,"x":5.7444,"y":0.82},{"i":125,"x":5.7572,"y":0.30},{"i":126,"x":5.7614,"y":0.30},{"i":127,"x":5.7729,"y":0.21}
]
},
"vconcat": [
{"width": 844, "height": 40, "view": {"stroke": null}, "data": {"values": [{}]},
 "layer": [
  {"mark": {"type": "text", "text": "b", "fontWeight": "bold", "fontSize": 20, "align": "left", "baseline": "middle", "color": "#231f20"}, "encoding": {"x": {"datum": 4.6607, "type": "quantitative", "scale": {"domain": [4.7348, 5.8134], "nice": false, "zero": false}, "axis": null}}},
  {"mark": {"type": "text", "text": "HBG1", "fontStyle": "italic", "fontSize": 33, "align": "right", "baseline": "middle", "color": "#231f20"}, "encoding": {"x": {"datum": 5.6128, "type": "quantitative"}}},
  {"mark": {"type": "text", "text": "profile", "fontSize": 33, "align": "left", "baseline": "middle", "color": "#231f20"}, "encoding": {"x": {"datum": 5.6243, "type": "quantitative"}}}
 ]},
{"width": 844, "height": 17, "view": {"stroke": null}, "data": {"values": []}, "mark": "point"},
{"width": 844, "height": 36, "view": {"stroke": null}, "data": {"name": "genes"},
 "encoding": {"x": {"field": "s", "type": "quantitative", "scale": {"domain": [4.7348, 5.8134], "nice": false, "zero": false}, "axis": null}, "y": {"field": "r", "type": "ordinal", "scale": {"type": "band", "paddingInner": 0.3, "paddingOuter": 0}, "axis": null}},
 "layer": [
  {"transform": [{"filter": "datum.k == 'l'"}], "mark": {"type": "rule", "color": "#000000", "strokeWidth": 2, "clip": true}, "encoding": {"x2": {"field": "e"}}},
  {"transform": [{"filter": "datum.k == 'x'"}], "mark": {"type": "rect", "fill": "#000000", "stroke": "#000000", "strokeWidth": 0.6, "clip": true}, "encoding": {"x2": {"field": "e"}}}
 ]},
{"width": 844, "height": 27, "view": {"stroke": null}, "data": {"name": "cb1"},
 "mark": {"type": "rect", "clip": true},
 "encoding": {"x": {"field": "s", "type": "quantitative", "scale": {"domain": [4.7348, 5.8134], "nice": false, "zero": false}, "axis": null}, "x2": {"field": "e"},
  "color": {"field": "st", "type": "nominal", "scale": {"domain": ["E", "WE", "g1", "g2", "PF", "TSS", "g3", "g4", "CTCF", "g5", "R", "T", "g6", "g7", "g8", "g9"], "range": ["#F7A21B", "#FFE000", "#ffffff", "#ffffff", "#8B1219", "#ED1C24", "#ffffff", "#ffffff", "#29AAE2", "#ffffff", "#808080", "#22B24C", "#ffffff", "#ffffff", "#ffffff", "#ffffff"]},
   "legend": {"title": null, "orient": "bottom", "direction": "horizontal", "columns": 16, "symbolType": "square", "symbolSize": 144, "symbolStrokeColor": "#231f20", "symbolStrokeWidth": 1, "labelFontSize": 16, "labelFont": "Liberation Sans", "labelColor": "#231f20", "labelOffset": 3, "columnPadding": 4, "offset": 14,
    "labelExpr": "indexof(['g1','g2','g3','g4','g5','g6','g7','g8','g9'], datum.label) >= 0 ? '' : datum.label",
    "encode": {"symbols": {"update": {"stroke": {"value": "#231f20"}, "strokeWidth": {"value": 1}, "opacity": {"signal": "indexof(['g1','g2','g3','g4','g5','g6','g7','g8','g9'], datum.value) >= 0 ? 0 : 1"}}}}}}}},
{"width": 844, "height": 282,
 "layer": [
  {"data": {"name": "r1"}, "transform": [{"filter": "datum.s != 'exp'"}], "mark": {"type": "line", "color": "#EE1D23", "strokeWidth": 1, "opacity": 0.9, "clip": true}, "encoding": {"x": {"field": "x", "type": "quantitative", "scale": {"domain": [4.7348, 5.8134], "nice": false, "zero": false}, "axis": {"values": [4.8, 5, 5.2, 5.4, 5.6, 5.8], "format": ".1f", "title": null, "labelPadding": 6}}, "y": {"field": "y", "type": "quantitative", "scale": {"domain": [-0.57, 15.57], "nice": false, "zero": false}, "axis": {"values": [0, 5, 10, 15], "title": "5C counts (x10²)", "titleFontSize": 19, "labelAngle": 270, "labelAlign": "center", "labelBaseline": "bottom", "labelPadding": 6, "titlePadding": 8}}, "detail": {"field": "s"}}},
  {"data": {"name": "r1"}, "transform": [{"filter": "datum.s == 'exp'"}], "mark": {"type": "line", "color": "#E8191F", "strokeWidth": 3, "clip": true}, "encoding": {"x": {"field": "x", "type": "quantitative"}, "y": {"field": "y", "type": "quantitative"}}},
  {"data": {"values": [{}]}, "mark": {"type": "rect", "color": "#F7A11A"}, "encoding": {"x": {"datum": 5.2677, "type": "quantitative"}, "x2": {"datum": 5.2753}, "y": {"datum": -0.57, "type": "quantitative"}, "y2": {"datum": 15.57}}},
  {"data": {"name": "k1"}, "mark": {"type": "line", "color": "#1a1a1a", "strokeWidth": 1, "clip": true}, "encoding": {"x": {"field": "x", "type": "quantitative"}, "y": {"field": "y", "type": "quantitative"}, "order": {"field": "i"}}},
  {"data": {"name": "k1"}, "mark": {"type": "point", "filled": true, "fill": "#8c8c8c", "fillOpacity": 0.75, "stroke": "#1a1a1a", "strokeWidth": 0.8, "size": 28, "clip": true}, "encoding": {"x": {"field": "x", "type": "quantitative"}, "y": {"field": "y", "type": "quantitative"}}},
  {"data": {"values": [{"x": 5.3014, "y": 7.63}]}, "mark": {"type": "circle", "color": "#2E3A8F", "size": 100, "opacity": 0.95}, "encoding": {"x": {"field": "x", "type": "quantitative"}, "y": {"field": "y", "type": "quantitative"}}},
  {"data": {"values": [{"x": 5.3129, "y": 5.47}]}, "mark": {"type": "circle", "fill": "#6BBF3F", "stroke": "#3F8F2F", "strokeWidth": 1, "size": 500, "opacity": 0.85}, "encoding": {"x": {"field": "x", "type": "quantitative"}, "y": {"field": "y", "type": "quantitative"}}},
  {"data": {"values": [{}]}, "mark": {"type": "rule", "color": "#231f20", "strokeWidth": 1}, "encoding": {"x": {"datum": 5.3320, "type": "quantitative"}, "y": {"datum": 6.23, "type": "quantitative"}, "x2": {"datum": 5.3695}, "y2": {"datum": 7.63}}},
  {"data": {"values": [{}]}, "mark": {"type": "text", "text": "LCR (HS5)", "align": "left", "baseline": "middle", "fontSize": 16, "color": "#231f20"}, "encoding": {"x": {"datum": 5.3738, "type": "quantitative"}, "y": {"datum": 8.29, "type": "quantitative"}}},
  {"data": {"values": [{}]}, "mark": {"type": "text", "text": "K562", "align": "right", "baseline": "alphabetic", "fontSize": 34, "color": "#231f20"}, "encoding": {"x": {"datum": 5.7968, "type": "quantitative"}, "y": {"datum": 13.06, "type": "quantitative"}}},
  {"data": {"values": [{}]}, "mark": {"type": "text", "text": "ON", "align": "right", "baseline": "alphabetic", "fontSize": 34, "color": "#39B54A"}, "encoding": {"x": {"datum": 5.7968, "type": "quantitative"}, "y": {"datum": 10.77, "type": "quantitative"}}}
 ]},
{"width": 844, "height": 89, "view": {"stroke": null}, "data": {"values": []}, "mark": "point"},
{"width": 844, "height": 36, "view": {"stroke": null}, "data": {"name": "genes"},
 "encoding": {"x": {"field": "s", "type": "quantitative", "scale": {"domain": [4.7348, 5.8134], "nice": false, "zero": false}, "axis": null}, "y": {"field": "r", "type": "ordinal", "scale": {"type": "band", "paddingInner": 0.3, "paddingOuter": 0}, "axis": null}},
 "layer": [
  {"transform": [{"filter": "datum.k == 'l'"}], "mark": {"type": "rule", "color": "#000000", "strokeWidth": 2, "clip": true}, "encoding": {"x2": {"field": "e"}}},
  {"transform": [{"filter": "datum.k == 'x'"}], "mark": {"type": "rect", "fill": "#000000", "stroke": "#000000", "strokeWidth": 0.6, "clip": true}, "encoding": {"x2": {"field": "e"}}}
 ]},
{"width": 844, "height": 27, "view": {"stroke": null}, "data": {"name": "cb2"},
 "mark": {"type": "rect", "clip": true},
 "encoding": {"x": {"field": "s", "type": "quantitative", "scale": {"domain": [4.7348, 5.8134], "nice": false, "zero": false}, "axis": null}, "x2": {"field": "e"},
  "color": {"field": "st", "type": "nominal"}}},
{"width": 844, "height": 282,
 "layer": [
  {"data": {"name": "r2"}, "transform": [{"filter": "datum.s != 'exp'"}], "mark": {"type": "line", "color": "#EE1D23", "strokeWidth": 1, "opacity": 0.9, "clip": true}, "encoding": {"x": {"field": "x", "type": "quantitative", "scale": {"domain": [4.7348, 5.8134], "nice": false, "zero": false}, "axis": {"values": [4.8, 5, 5.2, 5.4, 5.6, 5.8], "format": ".1f", "title": null, "labelPadding": 6}}, "y": {"field": "y", "type": "quantitative", "scale": {"domain": [-0.57, 15.57], "nice": false, "zero": false}, "axis": {"values": [0, 5, 10, 15], "title": "5C counts (x10²)", "titleFontSize": 19, "labelAngle": 270, "labelAlign": "center", "labelBaseline": "bottom", "labelPadding": 6, "titlePadding": 8}}, "detail": {"field": "s"}}},
  {"data": {"name": "r2"}, "transform": [{"filter": "datum.s == 'exp'"}], "mark": {"type": "line", "color": "#E8191F", "strokeWidth": 3, "clip": true}, "encoding": {"x": {"field": "x", "type": "quantitative"}, "y": {"field": "y", "type": "quantitative"}}},
  {"data": {"values": [{}]}, "mark": {"type": "rect", "color": "#F7A11A"}, "encoding": {"x": {"datum": 5.2677, "type": "quantitative"}, "x2": {"datum": 5.2753}, "y": {"datum": -0.57, "type": "quantitative"}, "y2": {"datum": 15.57}}},
  {"data": {"name": "k2"}, "mark": {"type": "line", "color": "#1a1a1a", "strokeWidth": 1, "clip": true}, "encoding": {"x": {"field": "x", "type": "quantitative"}, "y": {"field": "y", "type": "quantitative"}, "order": {"field": "i"}}},
  {"data": {"name": "k2"}, "mark": {"type": "point", "filled": true, "fill": "#8c8c8c", "fillOpacity": 0.75, "stroke": "#1a1a1a", "strokeWidth": 0.8, "size": 28, "clip": true}, "encoding": {"x": {"field": "x", "type": "quantitative"}, "y": {"field": "y", "type": "quantitative"}}},
  {"data": {"values": [{}]}, "mark": {"type": "text", "text": "GM12878", "align": "right", "baseline": "alphabetic", "fontSize": 34, "color": "#231f20"}, "encoding": {"x": {"datum": 5.7968, "type": "quantitative"}, "y": {"datum": 12.74, "type": "quantitative"}}},
  {"data": {"values": [{}]}, "mark": {"type": "text", "text": "OFF", "align": "right", "baseline": "alphabetic", "fontSize": 34, "color": "#ED1C24"}, "encoding": {"x": {"datum": 5.7968, "type": "quantitative"}, "y": {"datum": 10.46, "type": "quantitative"}}}
 ]},
{"width": 844, "height": 36, "view": {"stroke": null}, "data": {"values": []}, "mark": "point"},
{"width": 844, "height": 36, "view": {"stroke": null}, "data": {"name": "genes"},
 "encoding": {"x": {"field": "s", "type": "quantitative", "scale": {"domain": [4.7348, 5.8134], "nice": false, "zero": false}, "axis": null}, "y": {"field": "r", "type": "ordinal", "scale": {"type": "band", "paddingInner": 0.3, "paddingOuter": 0}, "axis": null}},
 "layer": [
  {"transform": [{"filter": "datum.k == 'l'"}], "mark": {"type": "rule", "color": "#000000", "strokeWidth": 2, "clip": true}, "encoding": {"x2": {"field": "e"}}},
  {"transform": [{"filter": "datum.k == 'x'"}], "mark": {"type": "rect", "fill": "#000000", "stroke": "#000000", "strokeWidth": 0.6, "clip": true}, "encoding": {"x2": {"field": "e"}}}
 ]},
{"width": 844, "height": 27, "view": {"stroke": null}, "data": {"name": "cb3"},
 "mark": {"type": "rect", "clip": true},
 "encoding": {"x": {"field": "s", "type": "quantitative", "scale": {"domain": [4.7348, 5.8134], "nice": false, "zero": false}, "axis": null}, "x2": {"field": "e"},
  "color": {"field": "st", "type": "nominal"}}},
{"width": 844, "height": 282,
 "layer": [
  {"data": {"name": "r3"}, "transform": [{"filter": "datum.s != 'exp'"}], "mark": {"type": "line", "color": "#EE1D23", "strokeWidth": 1, "opacity": 0.9, "clip": true}, "encoding": {"x": {"field": "x", "type": "quantitative", "scale": {"domain": [4.7348, 5.8134], "nice": false, "zero": false}, "axis": {"values": [4.8, 5, 5.2, 5.4, 5.6, 5.8], "format": ".1f", "title": "Genomic position on chr11 (Mb)", "labelPadding": 6, "titlePadding": 21}}, "y": {"field": "y", "type": "quantitative", "scale": {"domain": [-0.57, 15.57], "nice": false, "zero": false}, "axis": {"values": [0, 5, 10, 15], "title": "5C counts (x10²)", "titleFontSize": 19, "labelAngle": 270, "labelAlign": "center", "labelBaseline": "bottom", "labelPadding": 6, "titlePadding": 8}}, "detail": {"field": "s"}}},
  {"data": {"name": "r3"}, "transform": [{"filter": "datum.s == 'exp'"}], "mark": {"type": "line", "color": "#E8191F", "strokeWidth": 3, "clip": true}, "encoding": {"x": {"field": "x", "type": "quantitative"}, "y": {"field": "y", "type": "quantitative"}}},
  {"data": {"values": [{}]}, "mark": {"type": "rect", "color": "#F7A11A"}, "encoding": {"x": {"datum": 5.2677, "type": "quantitative"}, "x2": {"datum": 5.2753}, "y": {"datum": -0.57, "type": "quantitative"}, "y2": {"datum": 15.57}}},
  {"data": {"name": "k3"}, "mark": {"type": "line", "color": "#1a1a1a", "strokeWidth": 1, "clip": true}, "encoding": {"x": {"field": "x", "type": "quantitative"}, "y": {"field": "y", "type": "quantitative"}, "order": {"field": "i"}}},
  {"data": {"name": "k3"}, "mark": {"type": "point", "filled": true, "fill": "#8c8c8c", "fillOpacity": 0.75, "stroke": "#1a1a1a", "strokeWidth": 0.8, "size": 28, "clip": true}, "encoding": {"x": {"field": "x", "type": "quantitative"}, "y": {"field": "y", "type": "quantitative"}}},
  {"data": {"values": [{"x": 4.996, "y": 2.73}, {"x": 5.4867, "y": 6.41}]}, "mark": {"type": "circle", "color": "#2E3A8F", "size": 100, "opacity": 0.95}, "encoding": {"x": {"field": "x", "type": "quantitative"}, "y": {"field": "y", "type": "quantitative"}}},
  {"data": {"values": [{"x": 5.6017, "y": 2.69}]}, "mark": {"type": "circle", "fill": "#6BBF3F", "stroke": "#3F8F2F", "strokeWidth": 1, "size": 500, "opacity": 0.85}, "encoding": {"x": {"field": "x", "type": "quantitative"}, "y": {"field": "y", "type": "quantitative"}}},
  {"data": {"values": [{}]}, "mark": {"type": "text", "text": "HeLa-S3", "align": "right", "baseline": "alphabetic", "fontSize": 34, "color": "#231f20"}, "encoding": {"x": {"datum": 5.7968, "type": "quantitative"}, "y": {"datum": 13.18, "type": "quantitative"}}},
  {"data": {"values": [{}]}, "mark": {"type": "text", "text": "OFF", "align": "right", "baseline": "alphabetic", "fontSize": 34, "color": "#ED1C24"}, "encoding": {"x": {"datum": 5.7968, "type": "quantitative"}, "y": {"datum": 10.84, "type": "quantitative"}}}
 ]}
]
}
